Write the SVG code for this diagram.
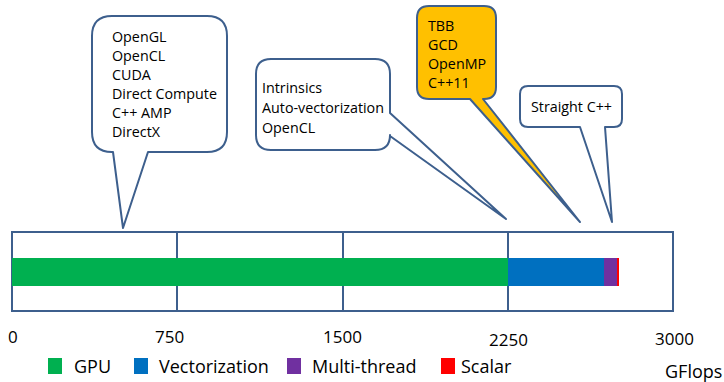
<svg xmlns="http://www.w3.org/2000/svg" width="724" height="382" viewBox="0 0 724 382">
<style>
.bub{stroke:#3D5F8D;stroke-width:2;stroke-linejoin:round}
.t{font-family:"Open Sans","Liberation Sans",sans-serif;font-size:14.3px;fill:#000}
.ax{font-family:"Open Sans","Liberation Sans",sans-serif;font-size:17px;fill:#000}
.lg{font-family:"Open Sans","Liberation Sans",sans-serif;font-size:18px;fill:#000}
.grid{stroke:#3D5F8D;stroke-width:2;fill:none}
</style>
<rect width="724" height="382" fill="#fff"/>
<g id="bar">
<rect class="grid" x="12" y="232" width="661" height="79"/>
<line class="grid" x1="177" y1="232" x2="177" y2="311"/>
<line class="grid" x1="343" y1="232" x2="343" y2="311"/>
<line class="grid" x1="508" y1="232" x2="508" y2="311"/>
<rect x="12" y="258" width="496" height="28" fill="#00B050"/>
<rect x="508" y="258" width="96" height="28" fill="#0070C0"/>
<rect x="604" y="258" width="13" height="28" fill="#7030A0"/>
<rect x="617" y="258" width="2" height="28" fill="#FF0000"/>
</g>
<g id="connectors">
</g>
<g id="gpu-bubble">
<path class="bub" fill="#fff" d="M112,16 H207 Q227,16 227,36 V132 Q227,152 207,152 H148 L123,228 L113,152 H112 Q92,152 92,132 V36 Q92,16 112,16 Z"/>
<text class="t" x="112" y="42">OpenGL</text>
<text class="t" x="112" y="61">OpenCL</text>
<text class="t" x="112" y="80">CUDA</text>
<text class="t" x="112" y="99">Direct Compute</text>
<text class="t" x="112" y="118">C++ AMP</text>
<text class="t" x="112" y="137">DirectX</text>
</g>
<g id="vector-bubble">
<path class="bub" fill="#fff" d="M271,59 H375 Q390,59 390,74 V113 L506,219 L390,136 V135 Q390,150 375,150 H271 Q256,150 256,135 V74 Q256,59 271,59 Z"/>
<text class="t" x="262" y="93">Intrinsics</text>
<text class="t" x="262" y="113">Auto-vectorization</text>
<text class="t" x="262" y="133">OpenCL</text>
</g>
<g id="thread-bubble">
<path class="bub" fill="#FFC000" d="M429,6 H484 Q496,6 496,18 V87 Q496,99 484,99 H483 L580,222 L470,99 H429 Q417,99 417,87 V18 Q417,6 429,6 Z"/>
<text class="t" x="428" y="31">TBB</text>
<text class="t" x="428" y="50">GCD</text>
<text class="t" x="428" y="69">OpenMP</text>
<text class="t" x="428" y="88">C++11</text>
</g>
<g id="scalar-bubble">
<path class="bub" fill="#fff" d="M528,86 H614 Q622,86 622,94 V119 Q622,127 614,127 H605 L612,222 L580,127 H528 Q520,127 520,119 V94 Q520,86 528,86 Z"/>
<text class="t" x="531" y="112">Straight C++</text>
</g>
<g id="axis">
<text class="ax" x="8" y="343">0</text>
<text class="ax" x="155" y="343">750</text>
<text class="ax" x="323" y="343">1500</text>
<text class="ax" x="489" y="346">2250</text>
<text class="ax" x="655" y="345">3000</text>
</g>
<g id="legend">
<rect x="48" y="358" width="14" height="16" fill="#00B050"/>
<text class="lg" x="74" y="373">GPU</text>
<rect x="134" y="358" width="14" height="16" fill="#0070C0"/>
<text class="lg" x="159" y="373">Vectorization</text>
<rect x="287" y="358" width="14" height="16" fill="#7030A0"/>
<text class="lg" x="312" y="373">Multi-thread</text>
<rect x="441" y="358" width="14" height="16" fill="#FF0000"/>
<text class="lg" x="461" y="373">Scalar</text>
<text class="lg" x="665" y="378">GFlops</text>
</g>
</svg>
